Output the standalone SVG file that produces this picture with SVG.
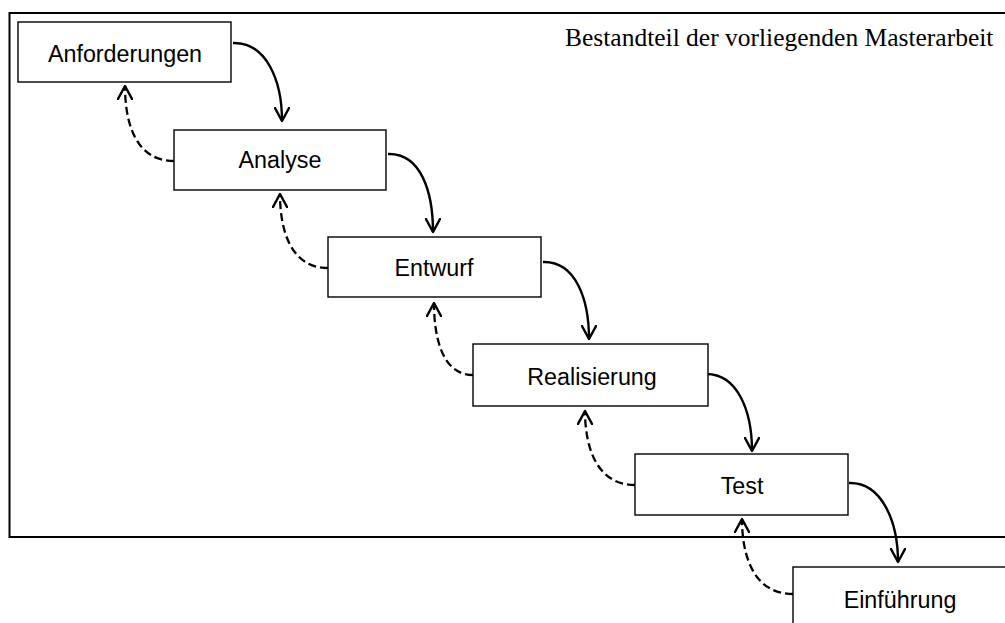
<svg xmlns="http://www.w3.org/2000/svg" width="1005" height="623" viewBox="0 0 1005 623">
<defs>
<style>
.box{fill:#fff;stroke:#000;stroke-width:1.4}
.lbl{font-family:"Liberation Sans",Arial,sans-serif;font-size:23.3px;fill:#000;text-anchor:middle}
.solid{fill:none;stroke:#000;stroke-width:2.4}
.dash{fill:none;stroke:#000;stroke-width:2.3;stroke-dasharray:8 4}
</style>
<marker id="arr" viewBox="0 0 16 16" refX="14" refY="8" markerWidth="16" markerHeight="16" markerUnits="userSpaceOnUse" orient="auto">
<path d="M1,1 L14,8 L1,15" fill="none" stroke="#000" stroke-width="2.4" stroke-linecap="round" stroke-linejoin="round"/>
</marker>
</defs>
<rect width="1005" height="623" fill="#fff"/>
<g id="frame">
<rect x="9.5" y="13" width="1005" height="524" fill="none" stroke="#000" stroke-width="2"/>
<text x="565" y="46" font-family="Liberation Serif,'Times New Roman',serif" font-size="25.5" fill="#000">Bestandteil der vorliegenden Masterarbeit</text>
</g>
<g id="connectors">
<path class="solid" marker-end="url(#arr)" d="M233,43 C266,42 282,80 282,121"/>
<path class="solid" marker-end="url(#arr)" d="M388,154 C421,153 433,192 433,232"/>
<path class="solid" marker-end="url(#arr)" d="M543,262 C576,261 589,300 589,339"/>
<path class="solid" marker-end="url(#arr)" d="M705,374 C738,373 752,412 752,451"/>
<path class="solid" marker-end="url(#arr)" d="M849,483 C882,482 898,522 898,562"/>
<path class="dash" marker-end="url(#arr)" d="M174,161 C135,161 125,122 125,86"/>
<path class="dash" marker-end="url(#arr)" d="M328,268 C290,268 280,229 280,194"/>
<path class="dash" marker-end="url(#arr)" d="M473,375 C442,375 434,337 434,303"/>
<path class="dash" marker-end="url(#arr)" d="M635,485 C596,485 585,446 585,411"/>
<path class="dash" marker-end="url(#arr)" d="M793,594 C753,594 742,555 742,519"/>
</g>
<g id="n1"><rect class="box" x="18" y="22" width="213" height="60"/><text class="lbl" x="125" y="62">Anforderungen</text></g>
<g id="n2"><rect class="box" x="174" y="130" width="212" height="60"/><text class="lbl" x="280" y="168">Analyse</text></g>
<g id="n3"><rect class="box" x="328" y="237" width="213" height="60"/><text class="lbl" x="434" y="276">Entwurf</text></g>
<g id="n4"><rect class="box" x="473" y="344" width="235" height="62"/><text class="lbl" x="592" y="385">Realisierung</text></g>
<g id="n5"><rect class="box" x="635" y="454" width="213" height="61"/><text class="lbl" x="742" y="494">Test</text></g>
<g id="n6"><rect class="box" x="793" y="567" width="214" height="62"/><text class="lbl" x="900" y="608">Einführung</text></g>
</svg>
